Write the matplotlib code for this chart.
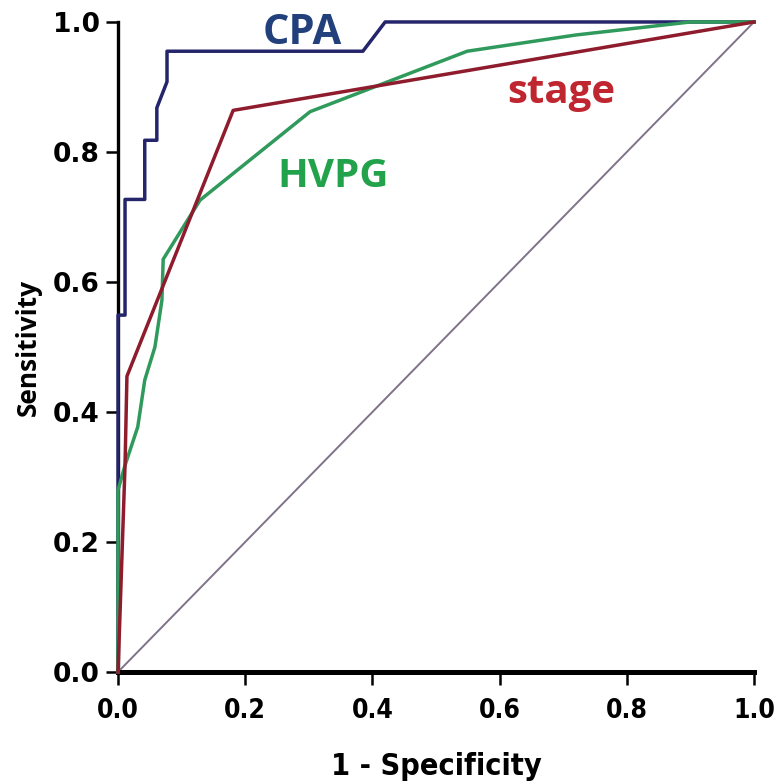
import matplotlib.pyplot as plt

# ROC curve coordinates (1 - specificity, sensitivity)
cpa_fpr = [0.0, 0.0, 0.011, 0.011, 0.042, 0.042, 0.061, 0.061, 0.077, 0.077, 0.385, 0.42, 1.0]
cpa_tpr = [0.0, 0.549, 0.549, 0.727, 0.727, 0.818, 0.818, 0.868, 0.908, 0.955, 0.955, 1.0, 1.0]

hvpg_fpr = [0.0, 0.0, 0.011, 0.031, 0.042, 0.058, 0.069, 0.071, 0.129, 0.302, 0.549, 0.72, 0.90, 1.0]
hvpg_tpr = [0.0, 0.28, 0.318, 0.377, 0.449, 0.50, 0.572, 0.635, 0.726, 0.862, 0.955, 0.98, 1.0, 1.0]

stage_fpr = [0.0, 0.011, 0.014, 0.181, 1.0]
stage_tpr = [0.0, 0.318, 0.455, 0.864, 1.0]

ref_line = [0.0, 1.0]
ticks = [0.0, 0.2, 0.4, 0.6, 0.8, 1.0]
tick_labels = ["0.0", "0.2", "0.4", "0.6", "0.8", "1.0"]

navy_line = "#24256b"
green_line = "#2f9a5c"
red_line = "#8e1c2c"

narrow = dict(family="DejaVu Sans", stretch="condensed", fontweight="bold")

fig = plt.figure(figsize=(7.74, 7.82), dpi=100)
ax = fig.add_axes([0.1525, 0.1407, 0.8217, 0.8312])

ax.plot(ref_line, ref_line, color="#7f7289", lw=1.4, zorder=2)
ax.plot(hvpg_fpr, hvpg_tpr, color=green_line, lw=2.5, clip_on=False, zorder=4)
ax.plot(stage_fpr, stage_tpr, color=red_line, lw=2.5, clip_on=False, zorder=5)
ax.plot(cpa_fpr, cpa_tpr, color=navy_line, lw=2.5, clip_on=False, zorder=3)

ax.text(0.289, 0.966, "CPA", color="#22407c", fontsize=30, fontweight="bold",
        family="Open Sans", ha="center", va="baseline")
ax.text(0.338, 0.746, "HVPG", color="#22a24b", fontsize=29, fontweight="bold",
        family="Open Sans", ha="center", va="baseline")
ax.text(0.697, 0.875, "stage", color="#c0262f", fontsize=29, fontweight="bold",
        family="Open Sans", ha="center", va="baseline")

ax.set_xlim(0, 1)
ax.set_ylim(0, 1)
ax.spines["top"].set_visible(False)
ax.spines["right"].set_visible(False)
ax.spines["left"].set_linewidth(2.4)
ax.spines["bottom"].set_linewidth(3.6)
ax.spines["left"].set_zorder(1)

ax.set_xticks(ticks)
ax.set_yticks(ticks)
ax.set_xticklabels(tick_labels, fontsize=19, **narrow)
ax.set_yticklabels(tick_labels, family="DejaVu Sans", fontweight="bold", fontsize=19)
ax.tick_params(axis="both", direction="out", length=9, width=1.8, color="black")
ax.tick_params(axis="x", pad=10)
ax.tick_params(axis="y", pad=4)

ax.set_xlabel("1 - Specificity", fontsize=22, labelpad=20, **narrow)
ax.set_ylabel("Sensitivity", family="Open Sans", fontweight="bold", fontsize=19, labelpad=8)

fig.savefig("out.png", dpi=100, facecolor="white")
